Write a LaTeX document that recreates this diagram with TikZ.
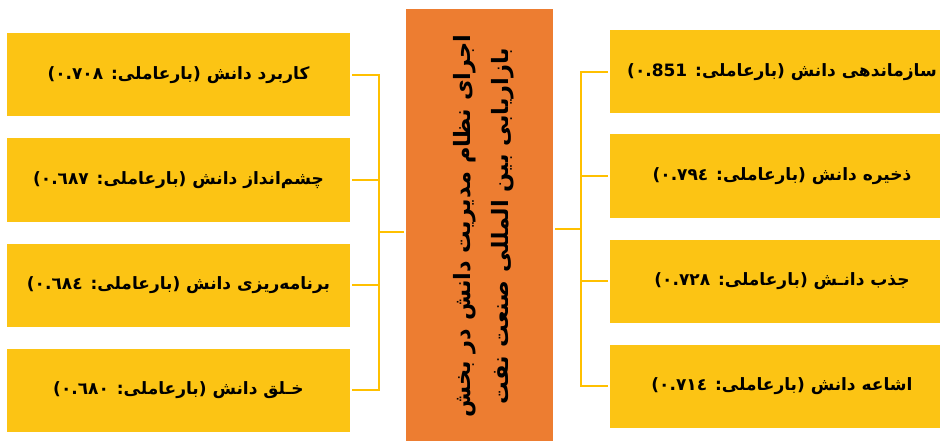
\documentclass[tikz,border=0pt]{standalone}
\usepackage{fontspec}
\TeXXeTstate=1
\newfontfamily\arabicbold[Script=Arabic]{DejaVu Sans Bold}
\definecolor{boxyellow}{RGB}{252,196,20}
\definecolor{boxorange}{RGB}{237,125,49}
\definecolor{lineyellow}{RGB}{255,192,0}
\tikzset{
  leaf/.style={fill=boxyellow, draw=none, minimum height=83pt, inner sep=0pt,
    font=\arabicbold\fontsize{17}{20}\selectfont},
  leftleaf/.style={leaf, minimum width=343pt},
  rightleaf/.style={leaf, minimum width=344pt},
  hub/.style={fill=boxorange, draw=none, minimum width=147pt, minimum height=432pt, inner sep=0pt},
  hubtext/.style={rotate=90, align=center, font=\arabicbold\fontsize{22.5}{38}\selectfont},
  conn/.style={draw=lineyellow, line width=1.3pt}
}
\begin{document}
\begin{tikzpicture}[x=1pt,y=-1pt]
\clip (0,0) rectangle (940,441);
\fill[white] (0,0) rectangle (940,441);
% left boxes
\node[leftleaf] (L1) at (178.5,75) {\beginR کاربرد دانش (بارعاملی: \beginL٠.٧٠٨\endL)\endR};
\node[leftleaf] (L2) at (178.5,180) {\beginR چشم‌انداز دانش (بارعاملی: \beginL٠.٦٨٧\endL)\endR};
\node[leftleaf] (L3) at (178.5,285) {\beginR برنامه‌ریزی دانش (بارعاملی: \beginL٠.٦٨٤\endL)\endR};
\node[leftleaf] (L4) at (178.5,390) {\beginR خـلق دانش (بارعاملی: \beginL٠.٦٨٠\endL)\endR};
% center box
\node[hub] (C) at (479.5,225) {};
\node[hubtext] (CT) at (484,226) {\beginR اجرای نظام مدیریت دانش در بخش\endR\\\beginR بازاریابی بین المللی صنعت نفت\endR};
% right boxes
\node[rightleaf] (R1) at (782,72) {\beginR سازماندهی دانش (بارعاملی: \beginL٠\kern0pt.\kern0pt 851\endL)\endR};
\node[rightleaf] (R2) at (782,176) {\beginR ذخیره دانش (بارعاملی: \beginL٠.٧٩٤\endL)\endR};
\node[rightleaf] (R3) at (782,281) {\beginR جذب دانـش (بارعاملی: \beginL٠.٧٢٨\endL)\endR};
\node[rightleaf] (R4) at (782,386) {\beginR اشاعه دانش (بارعاملی: \beginL٠.٧١٤\endL)\endR};
% junctions
\coordinate (jl) at (379,232);
\coordinate (jr) at (581,229);
\foreach \n in {L1,L2,L3,L4} {
  \draw[conn] ([xshift=2pt]\n.east) -| (jl);
}
\draw[conn] (jl) -- ([xshift=-2pt]jl -| C.west);
\foreach \n in {R1,R2,R3,R4} {
  \draw[conn] ([xshift=-2pt]\n.west) -| (jr);
}
\draw[conn] (jr) -- ([xshift=2pt]jr -| C.east);
\end{tikzpicture}
\end{document}
